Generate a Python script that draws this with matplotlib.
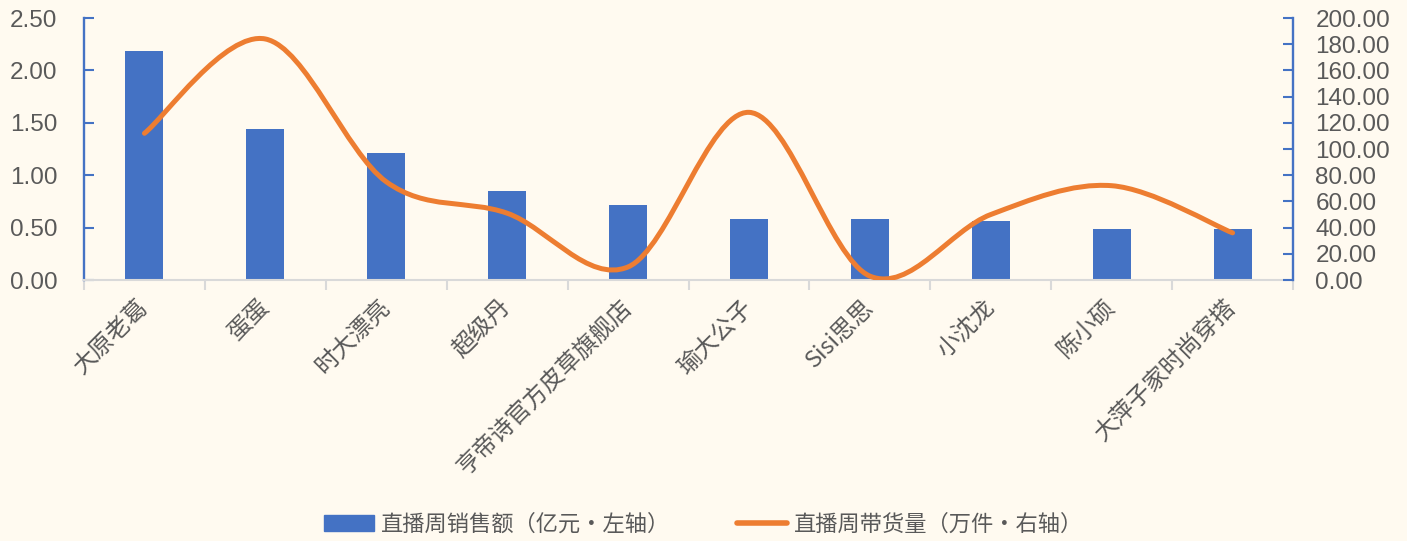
import matplotlib
matplotlib.use("Agg")
import matplotlib.pyplot as plt
from matplotlib.path import Path
from matplotlib.patches import PathPatch, Patch
from matplotlib.lines import Line2D
import numpy as np

categories = ["大原老葛", "蛋蛋", "时大漂亮", "超级丹", "亨帝诗官方皮草旗舰店",
              "瑜大公子", "Sisi思思", "小沈龙", "陈小硕", "大萍子家时尚穿搭"]
sales = [2.185, 1.44, 1.21, 0.85, 0.72, 0.58, 0.58, 0.56, 0.49, 0.49]
volume = [112, 184, 75, 51, 10, 128, 3, 50, 72, 36]
left_ticks = [0.0, 0.5, 1.0, 1.5, 2.0, 2.5]
right_ticks = [0, 20, 40, 60, 80, 100, 120, 140, 160, 180, 200]
legend_labels = ["直播周销售额（亿元·左轴）", "直播周带货量（万件·右轴）"]

BG = "#FFFAF0"
BLUE = "#4472C4"
ORANGE = "#ED7D31"
GRAY = "#595959"
CJK = ["Noto Sans CJK SC", "DejaVu Sans"]
NUM = "Liberation Sans"

fig = plt.figure(figsize=(14.07, 5.41), dpi=100, facecolor=BG)
ax = fig.add_axes([0.0597, 0.4824, 0.9190 - 0.0597, 0.9667 - 0.4824])
ax.set_facecolor(BG)
x = np.arange(len(categories))
ax.bar(x, sales, width=0.315, color=BLUE, zorder=2)
ax.set_xlim(-0.5, len(categories) - 0.5)
ax.set_ylim(0, 2.5)
ax.set_yticks(left_ticks)
ax.set_yticklabels([f"{v:.2f}" for v in left_ticks], fontfamily=NUM, fontsize=17.5, color=GRAY)
ax.tick_params(axis="y", direction="in", length=7, width=1.5, color=BLUE, pad=19)

ax.set_xticks(x)
ax.set_xticklabels(categories, rotation=45, ha="right", va="center",
                   rotation_mode="anchor", fontfamily=CJK, fontsize=17, color=GRAY)
ax.tick_params(axis="x", which="major", length=0, pad=17)
ax.set_xticks(np.arange(-0.5, len(categories)), minor=True)
ax.tick_params(axis="x", which="minor", direction="out", length=7, width=1.5, color="#D9D9D9")

for s in ["top", "right"]:
    ax.spines[s].set_visible(False)
ax.spines["left"].set_color(BLUE)
ax.spines["left"].set_linewidth(1.7)
ax.spines["bottom"].set_color("#D9D9D9")
ax.spines["bottom"].set_linewidth(1.5)

ax2 = ax.twinx()
ax2.set_ylim(0, 200)
ax2.set_yticks(right_ticks)
ax2.set_yticklabels([f"{v:.2f}" for v in right_ticks], fontfamily=NUM, fontsize=17.5, color=GRAY)
ax2.tick_params(axis="y", direction="in", length=7, width=1.5, color=BLUE, pad=16)
for s in ["top", "left", "bottom"]:
    ax2.spines[s].set_visible(False)
ax2.spines["right"].set_color(BLUE)
ax2.spines["right"].set_linewidth(1.7)

# smooth (Catmull-Rom style) curve like Excel's smoothed line
pts = np.column_stack([x, np.array(volume, dtype=float)])
n = len(pts)
verts = [tuple(pts[0])]
codes = [Path.MOVETO]
for i in range(n - 1):
    p0 = pts[i - 1] if i > 0 else pts[i]
    p1 = pts[i]
    p2 = pts[i + 1]
    p3 = pts[i + 2] if i + 2 < n else pts[i + 1]
    c1 = p1 + (p2 - p0) / 6.0
    c2 = p2 - (p3 - p1) / 6.0
    verts += [tuple(c1), tuple(c2), tuple(p2)]
    codes += [Path.CURVE4] * 3
patch = PathPatch(Path(verts, codes), facecolor="none", edgecolor=ORANGE,
                  linewidth=3.6, capstyle="round", joinstyle="round", zorder=3)
ax2.add_patch(patch)

handles = [Patch(facecolor=BLUE, edgecolor=BLUE),
           Line2D([], [], color=ORANGE, linewidth=4, solid_capstyle="round")]
leg = fig.legend(handles, legend_labels, loc="center", bbox_to_anchor=(0.5, 0.031),
                 ncol=2, frameon=False, handlelength=2.25, handleheight=0.75,
                 columnspacing=3.0, handletextpad=0.3,
                 prop={"family": CJK, "size": 16})
for t in leg.get_texts():
    t.set_color(GRAY)

fig.savefig("out.png", dpi=100, facecolor=BG)
